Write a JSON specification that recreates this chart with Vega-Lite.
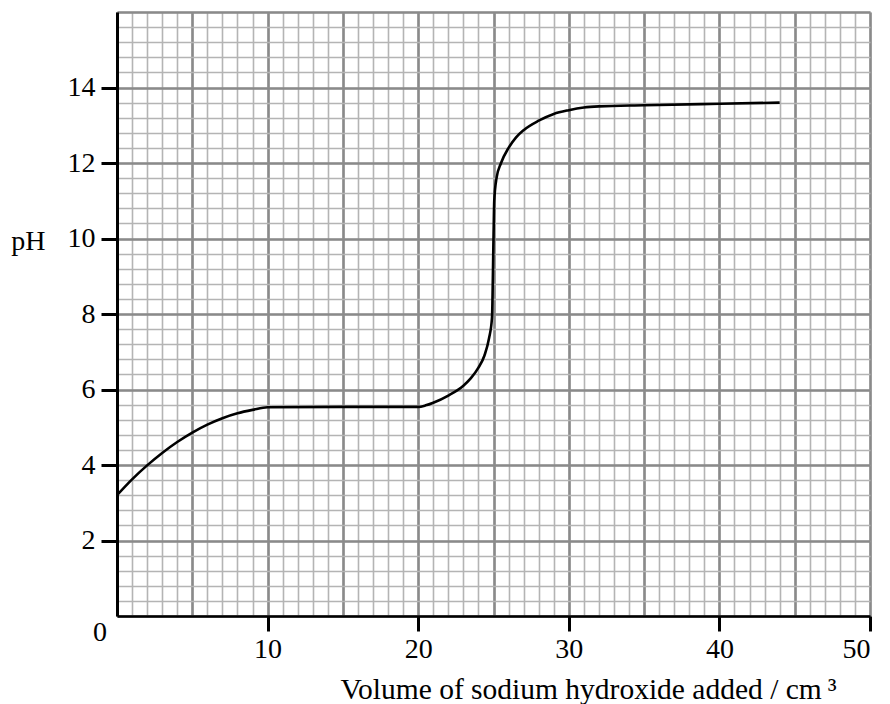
{
  "$schema": "https://vega.github.io/schema/vega-lite/v6.json",
  "width": 753,
  "height": 604,
  "autosize": {"type": "none"},
  "padding": {"left": 117, "top": 12, "right": 20, "bottom": 88},
  "background": "white",
  "config": {
    "font": "Liberation Serif",
    "view": {"stroke": null},
    "axis": {"labelFont": "Liberation Serif", "titleFont": "Liberation Serif", "titleFontWeight": "normal"}
  },
  "data": {
    "values": [
      {"v": 0, "ph": 3.2}, {"v": 1, "ph": 3.62}, {"v": 2, "ph": 3.99}, {"v": 3, "ph": 4.32},
      {"v": 4, "ph": 4.61}, {"v": 5, "ph": 4.86}, {"v": 6, "ph": 5.07}, {"v": 7, "ph": 5.24},
      {"v": 8, "ph": 5.37}, {"v": 9, "ph": 5.46}, {"v": 10, "ph": 5.53}, {"v": 15, "ph": 5.54},
      {"v": 20, "ph": 5.54}, {"v": 20.5, "ph": 5.58}, {"v": 21, "ph": 5.65}, {"v": 22, "ph": 5.84},
      {"v": 23, "ph": 6.1}, {"v": 23.5, "ph": 6.3}, {"v": 24, "ph": 6.58}, {"v": 24.4, "ph": 6.9},
      {"v": 24.7, "ph": 7.35}, {"v": 24.9, "ph": 7.9}, {"v": 25.0, "ph": 10.0},
      {"v": 25.05, "ph": 11.0}, {"v": 25.2, "ph": 11.6}, {"v": 25.5, "ph": 12.0}, {"v": 26, "ph": 12.4},
      {"v": 26.5, "ph": 12.68}, {"v": 27, "ph": 12.87}, {"v": 28, "ph": 13.12}, {"v": 29, "ph": 13.3},
      {"v": 30, "ph": 13.4}, {"v": 31, "ph": 13.47}, {"v": 32, "ph": 13.5}, {"v": 35, "ph": 13.53},
      {"v": 40, "ph": 13.57}, {"v": 44, "ph": 13.6}
    ]
  },
  "layer": [
    {
      "mark": {"type": "line", "color": "black", "strokeWidth": 2.6, "interpolate": "monotone"},
      "encoding": {
        "x": {
          "field": "v", "type": "quantitative",
          "scale": {"domain": [0, 50], "nice": false, "zero": true},
          "axis": {
            "orient": "bottom", "grid": true, "gridColor": "#b4b4b4", "gridWidth": 1.6,
            "values": [0,1,2,3,4,5,6,7,8,9,10,11,12,13,14,15,16,17,18,19,20,21,22,23,24,25,26,27,28,29,30,31,32,33,34,35,36,37,38,39,40,41,42,43,44,45,46,47,48,49,50],
            "labels": false, "ticks": false, "domain": false, "title": null
          }
        },
        "y": {
          "field": "ph", "type": "quantitative",
          "scale": {"domain": [0, 16], "nice": false},
          "axis": {
            "orient": "left", "grid": true, "gridColor": "#b4b4b4", "gridWidth": 1.6,
            "values": [0,0.4,0.8,1.2,1.6,2,2.4,2.8,3.2,3.6,4,4.4,4.8,5.2,5.6,6,6.4,6.8,7.2,7.6,8,8.4,8.8,9.2,9.6,10,10.4,10.8,11.2,11.6,12,12.4,12.8,13.2,13.6,14,14.4,14.8,15.2,15.6,16],
            "labels": false, "ticks": false, "domain": false, "title": null
          }
        }
      }
    },
    {
      "mark": {"type": "line", "strokeOpacity": 0},
      "encoding": {
        "x": {
          "field": "v", "type": "quantitative",
          "axis": {
            "orient": "bottom", "grid": true, "gridColor": "#8a8a8a", "gridWidth": 2.6,
            "values": [0,5,10,15,20,25,30,35,40,45,50],
            "domain": true, "domainColor": "black", "domainWidth": 2.6,
            "ticks": true, "tickColor": "black", "tickWidth": 3, "tickSize": 15,
            "tickOpacity": {"condition": {"test": "datum.value % 10 === 0 && datum.value > 0", "value": 1}, "value": 0},
            "labelExpr": "datum.value % 10 === 0 && datum.value > 0 ? datum.label : ''",
            "labelFontSize": 28, "labelColor": "black", "labelPadding": 4,
            "title": "Volume of sodium hydroxide added / cm\u2009³",
            "titleFontSize": 29.5, "titleColor": "black",
            "titleX": 719, "titleY": 82, "titleAlign": "right", "titleBaseline": "alphabetic", "titleAnchor": "end"
          }
        },
        "y": {
          "field": "ph", "type": "quantitative",
          "axis": {
            "orient": "left", "grid": true, "gridColor": "#8a8a8a", "gridWidth": 2.6,
            "values": [0,2,4,6,8,10,12,14,16],
            "domain": true, "domainColor": "black", "domainWidth": 3,
            "ticks": true, "tickColor": "black", "tickWidth": 3, "tickSize": 16,
            "tickOpacity": {"condition": {"test": "datum.value > 0 && datum.value < 16", "value": 1}, "value": 0},
            "labelExpr": "datum.value > 0 && datum.value < 16 ? datum.label : ''",
            "labelFontSize": 28, "labelColor": "black", "labelPadding": 6,
            "title": "pH", "titleFontSize": 28, "titleColor": "black", "titleAngle": 0,
            "titleX": -72, "titleY": 229, "titleAlign": "right", "titleBaseline": "middle"
          }
        }
      }
    },
    {
      "data": {"values": [{}]},
      "mark": {"type": "text", "text": "0", "fontSize": 28, "font": "Liberation Serif", "color": "black", "dx": -17, "dy": 17},
      "encoding": {
        "x": {"datum": 0, "type": "quantitative", "axis": null},
        "y": {"datum": 0, "type": "quantitative", "axis": null}
      }
    }
  ],
  "resolve": {"axis": {"x": "independent", "y": "independent"}}
}
